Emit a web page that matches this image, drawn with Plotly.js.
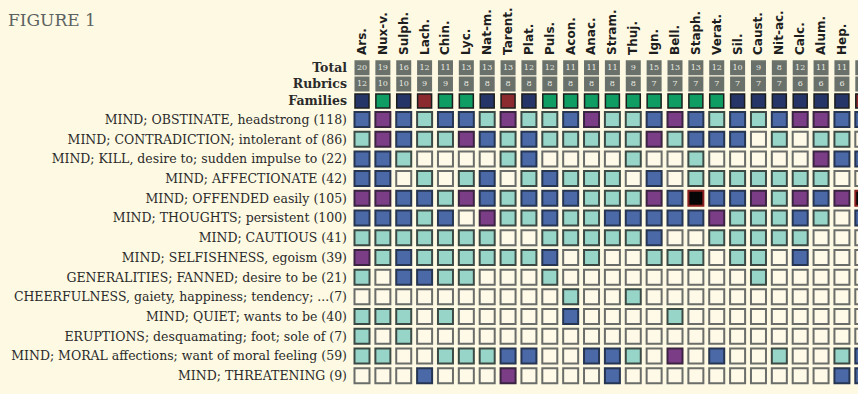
<!DOCTYPE html>
<html>
<head>
<meta charset="utf-8">
<script src="https://cdn.plot.ly/plotly-3.0.1.min.js"></script>
<style>html,body{margin:0;padding:0;background:#fdf9e3;}#chart{width:858px;height:394px;}</style>
</head>
<body>
<div id="chart"></div>
<script>
// ---- data ----
const remedies = ['Ars.','Nux-v.','Sulph.','Lach.','Chin.','Lyc.','Nat-m.','Tarent.','Plat.','Puls.','Acon.','Anac.','Stram.','Thuj.','Ign.','Bell.','Staph.','Verat.','Sil.','Caust.','Nit-ac.','Calc.','Alum.','Hep.',''];
const totals  = [20,19,16,12,11,13,13,13,12,12,11,11,11,9,15,13,13,12,10,9,8,12,11,11,null];
const rubricsCount = [12,10,10,9,9,8,8,8,8,8,8,8,8,8,7,7,7,7,7,7,7,6,6,6,null];
const families = ['mineral','plant','mineral','animal','plant','plant','mineral','animal','mineral','plant','plant','plant','plant','plant','plant','plant','plant','plant','mineral','mineral','mineral','mineral','mineral','mineral','animal'];
const rubrics = [
  'MIND; OBSTINATE, headstrong (118)',
  'MIND; CONTRADICTION; intolerant of (86)',
  'MIND; KILL, desire to; sudden impulse to (22)',
  'MIND; AFFECTIONATE (42)',
  'MIND; OFFENDED easily (105)',
  'MIND; THOUGHTS; persistent (100)',
  'MIND; CAUTIOUS (41)',
  'MIND; SELFISHNESS, egoism (39)',
  'GENERALITIES; FANNED; desire to be (21)',
  'CHEERFULNESS, gaiety, happiness; tendency; ...(7)',
  'MIND; QUIET; wants to be (40)',
  'ERUPTIONS; desquamating; foot; sole of (7)',
  'MIND; MORAL affections; want of moral feeling (59)',
  'MIND; THREATENING (9)'
];
const grades = [
  [2,3,2,1,2,2,1,3,1,1,2,3, 1,1,2,3,2,1,2,1,2,3,3,2, 2],
  [1,3,2,1,1,3,2,1,2,1,1,1, 1,1,3,1,2,2,2,0,1,0,1,1, 0],
  [2,2,1,0,0,0,0,1,2,0,0,0, 0,1,0,0,1,0,0,0,0,0,3,2, 2],
  [2,2,0,1,0,1,2,0,1,2,1,1, 1,0,2,0,1,1,1,1,1,1,1,0, 0],
  [3,3,2,2,1,3,2,1,2,2,2,1, 1,1,3,2,4,2,2,3,1,3,2,3, 4],
  [2,2,2,1,2,0,3,1,1,2,1,1, 2,2,2,2,2,3,1,1,1,2,1,0, 2],
  [1,1,1,1,1,1,1,0,0,1,1,1, 1,1,2,0,0,1,1,1,1,1,0,0, 0],
  [3,1,2,1,1,1,1,1,1,2,0,1, 0,0,1,1,1,0,1,1,0,2,0,0, 0],
  [1,0,2,2,1,1,0,0,0,1,0,0, 0,0,0,0,0,0,0,1,0,0,0,0, 0],
  [0,0,0,0,0,0,0,0,0,0,1,0, 0,1,0,0,0,0,0,0,0,0,0,0, 0],
  [1,1,1,0,1,0,0,0,0,0,2,0, 0,0,0,1,0,0,0,0,0,0,0,0, 0],
  [1,0,1,0,0,0,0,0,0,0,0,0, 0,0,0,0,0,0,0,0,0,0,0,0, 0],
  [1,1,0,0,1,1,1,2,2,0,0,2, 2,1,0,3,0,2,0,0,1,0,0,1, 2],
  [0,0,0,2,0,0,0,3,0,0,0,0, 2,0,0,0,0,0,0,0,0,0,0,2, 2]
];
const headerLabels = ['Total','Rubrics','Families'];

// ---- styling ----
const BG = '#fdf9e3';
const gradeFill = ['#fffae7','#97d5c9','#4a69a6','#7a3d86','#060606'];
const gradeLine = ['#6a6d6a','#3c4a46','#263552','#3a2442','#8a1f1f'];
const famFill = {mineral:'#263567', plant:'#0f9d63', animal:'#8b2a2f'};
const HEADER_GRAY = '#6a716b';
const yTotal = -2.62, yRub = -1.80, yFam = -0.94;

const cols = remedies.map((_, i) => i);
const traces = [];

// grid cells
const gx = [], gy = [], gc = [], gl = [], gt = [];
grades.forEach((row, r) => row.forEach((g, c) => {
  gx.push(c); gy.push(r); gc.push(gradeFill[g]); gl.push(gradeLine[g]);
  gt.push(rubrics[r] + '<br>' + remedies[c] + ': ' + g);
}));
traces.push({
  type: 'scatter', mode: 'markers', x: gx, y: gy, text: gt, hoverinfo: 'text',
  marker: {symbol: 'square', size: 15, color: gc, line: {color: gl, width: 2}},
  cliponaxis: true, showlegend: false
});

function headerRow(vals, yv) {
  return {
    type: 'scatter', mode: 'markers+text', x: cols, y: cols.map(() => yv),
    text: vals.map(v => v == null ? '' : String(v)), textposition: 'middle center',
    textfont: {family: 'DejaVu Serif', size: 8, color: '#e9ebe2'},
    marker: {symbol: 'square', size: 13.5, color: HEADER_GRAY, line: {color: HEADER_GRAY, width: 1.5}},
    cliponaxis: true, showlegend: false, hoverinfo: 'skip'
  };
}
traces.push(headerRow(totals, yTotal));
traces.push(headerRow(rubricsCount, yRub));
// Families row
traces.push({
  type: 'scatter', mode: 'markers', x: cols, y: cols.map(() => yFam),
  text: families, hoverinfo: 'text',
  marker: {symbol: 'square', size: 14, color: families.map(f => famFill[f]), line: {color: '#1a1d1c', width: 1.5}},
  cliponaxis: true, showlegend: false
});

const ytickvals = [yTotal, yRub, yFam].concat(rubrics.map((_, i) => i));
const yticktext = headerLabels.map(h => '<b>' + h + '</b>').concat(rubrics);

const layout = {
  width: 858, height: 394,
  paper_bgcolor: BG, plot_bgcolor: BG,
  margin: {l: 350, r: 0, t: 58, b: 0, pad: 0},
  title: {text: 'FIGURE 1', x: 8/858, xanchor: 'left', y: 1 - 20/394, yanchor: 'middle',
          font: {family: 'DejaVu Serif', size: 17, color: '#5b6261'}},
  xaxis: {
    side: 'top', range: [-0.575, 23.77], tickvals: cols, ticktext: remedies.map(r => r ? '<b>' + r + '</b>' : ''),
    tickangle: -90, tickfont: {family: 'DejaVu Sans', size: 12, color: '#1e1e1e'},
    showgrid: false, zeroline: false, showline: false, ticks: '', ticklabelstandoff: 2
  },
  yaxis: {
    range: [13.93, -3.12], tickvals: ytickvals, ticktext: yticktext,
    tickfont: {family: 'DejaVu Serif', size: 12.5, color: '#2a2a2a'},
    showgrid: false, zeroline: false, showline: false, ticks: '', ticklabelstandoff: 2
  },
  showlegend: false
};

Plotly.newPlot('chart', traces, layout, {displayModeBar: false});
</script>
</body>
</html>
